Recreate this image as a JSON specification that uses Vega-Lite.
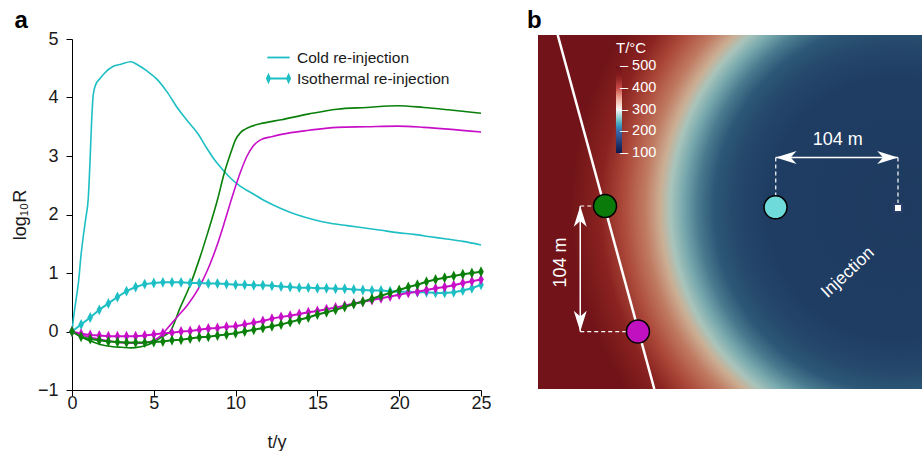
{
  "$schema": "https://vega.github.io/schema/vega-lite/v6.json",
  "background": "white",
  "padding": {"left": 11, "top": 9, "right": 0, "bottom": 0},
  "spacing": 35,
  "config": {
    "font": "Liberation Sans",
    "view": {"stroke": null},
    "axis": {"domainColor": "#000", "tickColor": "#000", "labelColor": "#1a1a1a", "titleColor": "#1a1a1a", "labelFontSize": 18, "titleFontSize": 18, "titleFontWeight": "normal", "grid": false, "tickSize": 6, "labelFlush": false, "labelOverlap": false}
  },
  "resolve": {"scale": {"x": "independent", "y": "independent", "color": "independent", "fill": "independent", "shape": "independent"}, "legend": {"color": "independent", "shape": "independent"}},
  "datasets": {
    "series": [
      {"t":0,"R":0,"w":"H","s":"Cold"},{"t":0.1,"R":0.25,"w":"H","s":"Cold"},{"t":0.25,"R":0.55,"w":"H","s":"Cold"},{"t":0.4,"R":0.85,"w":"H","s":"Cold"},{"t":0.55,"R":1.3,"w":"H","s":"Cold"},{"t":0.7,"R":1.65,"w":"H","s":"Cold"},{"t":0.85,"R":1.95,"w":"H","s":"Cold"},{"t":1.0,"R":2.3,"w":"H","s":"Cold"},{"t":1.1,"R":2.9,"w":"H","s":"Cold"},{"t":1.2,"R":3.6,"w":"H","s":"Cold"},{"t":1.3,"R":4.05,"w":"H","s":"Cold"},{"t":1.45,"R":4.22,"w":"H","s":"Cold"},{"t":1.7,"R":4.32,"w":"H","s":"Cold"},{"t":2.0,"R":4.42,"w":"H","s":"Cold"},{"t":2.5,"R":4.53,"w":"H","s":"Cold"},{"t":3.0,"R":4.57,"w":"H","s":"Cold"},{"t":3.6,"R":4.61,"w":"H","s":"Cold"},{"t":4.0,"R":4.56,"w":"H","s":"Cold"},{"t":4.6,"R":4.45,"w":"H","s":"Cold"},{"t":5.2,"R":4.31,"w":"H","s":"Cold"},{"t":5.8,"R":4.1,"w":"H","s":"Cold"},{"t":6.45,"R":3.82,"w":"H","s":"Cold"},{"t":7.0,"R":3.62,"w":"H","s":"Cold"},{"t":7.7,"R":3.38,"w":"H","s":"Cold"},{"t":8.2,"R":3.15,"w":"H","s":"Cold"},{"t":8.7,"R":2.94,"w":"H","s":"Cold"},{"t":9.2,"R":2.77,"w":"H","s":"Cold"},{"t":9.7,"R":2.62,"w":"H","s":"Cold"},{"t":10.3,"R":2.48,"w":"H","s":"Cold"},{"t":10.9,"R":2.38,"w":"H","s":"Cold"},{"t":11.75,"R":2.24,"w":"H","s":"Cold"},{"t":12.8,"R":2.1,"w":"H","s":"Cold"},{"t":13.8,"R":1.99,"w":"H","s":"Cold"},{"t":14.8,"R":1.91,"w":"H","s":"Cold"},{"t":15.8,"R":1.85,"w":"H","s":"Cold"},{"t":16.8,"R":1.81,"w":"H","s":"Cold"},{"t":17.9,"R":1.77,"w":"H","s":"Cold"},{"t":18.9,"R":1.73,"w":"H","s":"Cold"},{"t":19.9,"R":1.69,"w":"H","s":"Cold"},{"t":20.9,"R":1.66,"w":"H","s":"Cold"},{"t":21.9,"R":1.62,"w":"H","s":"Cold"},{"t":22.9,"R":1.58,"w":"H","s":"Cold"},{"t":23.9,"R":1.54,"w":"H","s":"Cold"},{"t":25,"R":1.48,"w":"H","s":"Cold"},
      {"t":0,"R":0,"w":"F1","s":"Cold"},{"t":0.5,"R":-0.08,"w":"F1","s":"Cold"},{"t":1,"R":-0.15,"w":"F1","s":"Cold"},{"t":1.5,"R":-0.2,"w":"F1","s":"Cold"},{"t":2,"R":-0.24,"w":"F1","s":"Cold"},{"t":2.5,"R":-0.26,"w":"F1","s":"Cold"},{"t":3,"R":-0.27,"w":"F1","s":"Cold"},{"t":3.6,"R":-0.28,"w":"F1","s":"Cold"},{"t":4.2,"R":-0.26,"w":"F1","s":"Cold"},{"t":4.6,"R":-0.23,"w":"F1","s":"Cold"},{"t":5,"R":-0.18,"w":"F1","s":"Cold"},{"t":5.5,"R":-0.09,"w":"F1","s":"Cold"},{"t":6,"R":0,"w":"F1","s":"Cold"},{"t":6.6,"R":0.4,"w":"F1","s":"Cold"},{"t":7.27,"R":0.83,"w":"F1","s":"Cold"},{"t":7.8,"R":1.25,"w":"F1","s":"Cold"},{"t":8.3,"R":1.69,"w":"F1","s":"Cold"},{"t":8.9,"R":2.26,"w":"F1","s":"Cold"},{"t":9.3,"R":2.7,"w":"F1","s":"Cold"},{"t":9.7,"R":3.05,"w":"F1","s":"Cold"},{"t":10,"R":3.28,"w":"F1","s":"Cold"},{"t":10.3,"R":3.4,"w":"F1","s":"Cold"},{"t":10.6,"R":3.46,"w":"F1","s":"Cold"},{"t":10.9,"R":3.5,"w":"F1","s":"Cold"},{"t":11.5,"R":3.55,"w":"F1","s":"Cold"},{"t":12.8,"R":3.62,"w":"F1","s":"Cold"},{"t":14.5,"R":3.72,"w":"F1","s":"Cold"},{"t":16.2,"R":3.8,"w":"F1","s":"Cold"},{"t":18,"R":3.83,"w":"F1","s":"Cold"},{"t":19.9,"R":3.86,"w":"F1","s":"Cold"},{"t":21.5,"R":3.83,"w":"F1","s":"Cold"},{"t":23,"R":3.79,"w":"F1","s":"Cold"},{"t":25,"R":3.73,"w":"F1","s":"Cold"},
      {"t":0,"R":0,"w":"F2","s":"Cold"},{"t":0.5,"R":-0.05,"w":"F2","s":"Cold"},{"t":1,"R":-0.09,"w":"F2","s":"Cold"},{"t":1.5,"R":-0.12,"w":"F2","s":"Cold"},{"t":2,"R":-0.15,"w":"F2","s":"Cold"},{"t":2.5,"R":-0.17,"w":"F2","s":"Cold"},{"t":3,"R":-0.19,"w":"F2","s":"Cold"},{"t":3.5,"R":-0.2,"w":"F2","s":"Cold"},{"t":4,"R":-0.2,"w":"F2","s":"Cold"},{"t":4.5,"R":-0.19,"w":"F2","s":"Cold"},{"t":5,"R":-0.15,"w":"F2","s":"Cold"},{"t":5.4,"R":-0.08,"w":"F2","s":"Cold"},{"t":5.85,"R":0.06,"w":"F2","s":"Cold"},{"t":6.4,"R":0.24,"w":"F2","s":"Cold"},{"t":7.05,"R":0.45,"w":"F2","s":"Cold"},{"t":7.7,"R":0.72,"w":"F2","s":"Cold"},{"t":8.3,"R":1.06,"w":"F2","s":"Cold"},{"t":8.9,"R":1.5,"w":"F2","s":"Cold"},{"t":9.3,"R":1.85,"w":"F2","s":"Cold"},{"t":9.7,"R":2.22,"w":"F2","s":"Cold"},{"t":10.2,"R":2.65,"w":"F2","s":"Cold"},{"t":10.7,"R":3.0,"w":"F2","s":"Cold"},{"t":11.1,"R":3.18,"w":"F2","s":"Cold"},{"t":11.55,"R":3.28,"w":"F2","s":"Cold"},{"t":12.2,"R":3.33,"w":"F2","s":"Cold"},{"t":12.8,"R":3.37,"w":"F2","s":"Cold"},{"t":14.5,"R":3.44,"w":"F2","s":"Cold"},{"t":16.2,"R":3.49,"w":"F2","s":"Cold"},{"t":18,"R":3.5,"w":"F2","s":"Cold"},{"t":19.9,"R":3.51,"w":"F2","s":"Cold"},{"t":21.5,"R":3.49,"w":"F2","s":"Cold"},{"t":23,"R":3.46,"w":"F2","s":"Cold"},{"t":25,"R":3.41,"w":"F2","s":"Cold"},
      {"t":0,"R":0,"w":"H","s":"Isothermal"},{"t":0.556,"R":0.12,"w":"H","s":"Isothermal"},{"t":1.111,"R":0.24,"w":"H","s":"Isothermal"},{"t":1.667,"R":0.37,"w":"H","s":"Isothermal"},{"t":2.222,"R":0.48,"w":"H","s":"Isothermal"},{"t":2.778,"R":0.59,"w":"H","s":"Isothermal"},{"t":3.333,"R":0.69,"w":"H","s":"Isothermal"},{"t":3.889,"R":0.76,"w":"H","s":"Isothermal"},{"t":4.444,"R":0.81,"w":"H","s":"Isothermal"},{"t":5,"R":0.83,"w":"H","s":"Isothermal"},{"t":5.556,"R":0.84,"w":"H","s":"Isothermal"},{"t":6.111,"R":0.84,"w":"H","s":"Isothermal"},{"t":6.667,"R":0.84,"w":"H","s":"Isothermal"},{"t":7.222,"R":0.83,"w":"H","s":"Isothermal"},{"t":7.778,"R":0.83,"w":"H","s":"Isothermal"},{"t":8.333,"R":0.82,"w":"H","s":"Isothermal"},{"t":8.889,"R":0.82,"w":"H","s":"Isothermal"},{"t":9.444,"R":0.81,"w":"H","s":"Isothermal"},{"t":10,"R":0.8,"w":"H","s":"Isothermal"},{"t":10.556,"R":0.8,"w":"H","s":"Isothermal"},{"t":11.111,"R":0.79,"w":"H","s":"Isothermal"},{"t":11.667,"R":0.79,"w":"H","s":"Isothermal"},{"t":12.222,"R":0.78,"w":"H","s":"Isothermal"},{"t":12.778,"R":0.77,"w":"H","s":"Isothermal"},{"t":13.333,"R":0.76,"w":"H","s":"Isothermal"},{"t":13.889,"R":0.75,"w":"H","s":"Isothermal"},{"t":14.444,"R":0.75,"w":"H","s":"Isothermal"},{"t":15,"R":0.74,"w":"H","s":"Isothermal"},{"t":15.556,"R":0.74,"w":"H","s":"Isothermal"},{"t":16.111,"R":0.73,"w":"H","s":"Isothermal"},{"t":16.667,"R":0.73,"w":"H","s":"Isothermal"},{"t":17.222,"R":0.72,"w":"H","s":"Isothermal"},{"t":17.778,"R":0.71,"w":"H","s":"Isothermal"},{"t":18.333,"R":0.7,"w":"H","s":"Isothermal"},{"t":18.889,"R":0.7,"w":"H","s":"Isothermal"},{"t":19.444,"R":0.69,"w":"H","s":"Isothermal"},{"t":20,"R":0.68,"w":"H","s":"Isothermal"},{"t":20.556,"R":0.68,"w":"H","s":"Isothermal"},{"t":21.111,"R":0.67,"w":"H","s":"Isothermal"},{"t":21.667,"R":0.67,"w":"H","s":"Isothermal"},{"t":22.222,"R":0.66,"w":"H","s":"Isothermal"},{"t":22.778,"R":0.66,"w":"H","s":"Isothermal"},{"t":23.333,"R":0.67,"w":"H","s":"Isothermal"},{"t":23.889,"R":0.7,"w":"H","s":"Isothermal"},{"t":24.444,"R":0.74,"w":"H","s":"Isothermal"},{"t":25,"R":0.8,"w":"H","s":"Isothermal"},
      {"t":0,"R":0,"w":"F2","s":"Isothermal"},{"t":0.556,"R":-0.04,"w":"F2","s":"Isothermal"},{"t":1.111,"R":-0.06,"w":"F2","s":"Isothermal"},{"t":1.667,"R":-0.07,"w":"F2","s":"Isothermal"},{"t":2.222,"R":-0.08,"w":"F2","s":"Isothermal"},{"t":2.778,"R":-0.08,"w":"F2","s":"Isothermal"},{"t":3.333,"R":-0.08,"w":"F2","s":"Isothermal"},{"t":3.889,"R":-0.08,"w":"F2","s":"Isothermal"},{"t":4.444,"R":-0.07,"w":"F2","s":"Isothermal"},{"t":5,"R":-0.05,"w":"F2","s":"Isothermal"},{"t":5.556,"R":-0.03,"w":"F2","s":"Isothermal"},{"t":6.111,"R":-0.02,"w":"F2","s":"Isothermal"},{"t":6.667,"R":0,"w":"F2","s":"Isothermal"},{"t":7.222,"R":0.01,"w":"F2","s":"Isothermal"},{"t":7.778,"R":0.03,"w":"F2","s":"Isothermal"},{"t":8.333,"R":0.05,"w":"F2","s":"Isothermal"},{"t":8.889,"R":0.06,"w":"F2","s":"Isothermal"},{"t":9.444,"R":0.08,"w":"F2","s":"Isothermal"},{"t":10,"R":0.09,"w":"F2","s":"Isothermal"},{"t":10.556,"R":0.12,"w":"F2","s":"Isothermal"},{"t":11.111,"R":0.15,"w":"F2","s":"Isothermal"},{"t":11.667,"R":0.18,"w":"F2","s":"Isothermal"},{"t":12.222,"R":0.22,"w":"F2","s":"Isothermal"},{"t":12.778,"R":0.25,"w":"F2","s":"Isothermal"},{"t":13.333,"R":0.27,"w":"F2","s":"Isothermal"},{"t":13.889,"R":0.3,"w":"F2","s":"Isothermal"},{"t":14.444,"R":0.33,"w":"F2","s":"Isothermal"},{"t":15,"R":0.35,"w":"F2","s":"Isothermal"},{"t":15.556,"R":0.38,"w":"F2","s":"Isothermal"},{"t":16.111,"R":0.41,"w":"F2","s":"Isothermal"},{"t":16.667,"R":0.44,"w":"F2","s":"Isothermal"},{"t":17.222,"R":0.48,"w":"F2","s":"Isothermal"},{"t":17.778,"R":0.51,"w":"F2","s":"Isothermal"},{"t":18.333,"R":0.54,"w":"F2","s":"Isothermal"},{"t":18.889,"R":0.57,"w":"F2","s":"Isothermal"},{"t":19.444,"R":0.6,"w":"F2","s":"Isothermal"},{"t":20,"R":0.63,"w":"F2","s":"Isothermal"},{"t":20.556,"R":0.66,"w":"F2","s":"Isothermal"},{"t":21.111,"R":0.68,"w":"F2","s":"Isothermal"},{"t":21.667,"R":0.71,"w":"F2","s":"Isothermal"},{"t":22.222,"R":0.74,"w":"F2","s":"Isothermal"},{"t":22.778,"R":0.76,"w":"F2","s":"Isothermal"},{"t":23.333,"R":0.79,"w":"F2","s":"Isothermal"},{"t":23.889,"R":0.83,"w":"F2","s":"Isothermal"},{"t":24.444,"R":0.86,"w":"F2","s":"Isothermal"},{"t":25,"R":0.89,"w":"F2","s":"Isothermal"},
      {"t":0,"R":0,"w":"F1","s":"Isothermal"},{"t":0.556,"R":-0.09,"w":"F1","s":"Isothermal"},{"t":1.111,"R":-0.13,"w":"F1","s":"Isothermal"},{"t":1.667,"R":-0.15,"w":"F1","s":"Isothermal"},{"t":2.222,"R":-0.17,"w":"F1","s":"Isothermal"},{"t":2.778,"R":-0.18,"w":"F1","s":"Isothermal"},{"t":3.333,"R":-0.19,"w":"F1","s":"Isothermal"},{"t":3.889,"R":-0.19,"w":"F1","s":"Isothermal"},{"t":4.444,"R":-0.19,"w":"F1","s":"Isothermal"},{"t":5,"R":-0.18,"w":"F1","s":"Isothermal"},{"t":5.556,"R":-0.17,"w":"F1","s":"Isothermal"},{"t":6.111,"R":-0.15,"w":"F1","s":"Isothermal"},{"t":6.667,"R":-0.14,"w":"F1","s":"Isothermal"},{"t":7.222,"R":-0.12,"w":"F1","s":"Isothermal"},{"t":7.778,"R":-0.1,"w":"F1","s":"Isothermal"},{"t":8.333,"R":-0.09,"w":"F1","s":"Isothermal"},{"t":8.889,"R":-0.07,"w":"F1","s":"Isothermal"},{"t":9.444,"R":-0.05,"w":"F1","s":"Isothermal"},{"t":10,"R":-0.03,"w":"F1","s":"Isothermal"},{"t":10.556,"R":0,"w":"F1","s":"Isothermal"},{"t":11.111,"R":0.03,"w":"F1","s":"Isothermal"},{"t":11.667,"R":0.06,"w":"F1","s":"Isothermal"},{"t":12.222,"R":0.09,"w":"F1","s":"Isothermal"},{"t":12.778,"R":0.12,"w":"F1","s":"Isothermal"},{"t":13.333,"R":0.16,"w":"F1","s":"Isothermal"},{"t":13.889,"R":0.2,"w":"F1","s":"Isothermal"},{"t":14.444,"R":0.24,"w":"F1","s":"Isothermal"},{"t":15,"R":0.29,"w":"F1","s":"Isothermal"},{"t":15.556,"R":0.33,"w":"F1","s":"Isothermal"},{"t":16.111,"R":0.37,"w":"F1","s":"Isothermal"},{"t":16.667,"R":0.42,"w":"F1","s":"Isothermal"},{"t":17.222,"R":0.47,"w":"F1","s":"Isothermal"},{"t":17.778,"R":0.51,"w":"F1","s":"Isothermal"},{"t":18.333,"R":0.56,"w":"F1","s":"Isothermal"},{"t":18.889,"R":0.61,"w":"F1","s":"Isothermal"},{"t":19.444,"R":0.66,"w":"F1","s":"Isothermal"},{"t":20,"R":0.71,"w":"F1","s":"Isothermal"},{"t":20.556,"R":0.76,"w":"F1","s":"Isothermal"},{"t":21.111,"R":0.8,"w":"F1","s":"Isothermal"},{"t":21.667,"R":0.85,"w":"F1","s":"Isothermal"},{"t":22.222,"R":0.89,"w":"F1","s":"Isothermal"},{"t":22.778,"R":0.92,"w":"F1","s":"Isothermal"},{"t":23.333,"R":0.95,"w":"F1","s":"Isothermal"},{"t":23.889,"R":0.98,"w":"F1","s":"Isothermal"},{"t":24.444,"R":1.0,"w":"F1","s":"Isothermal"},{"t":25,"R":1.02,"w":"F1","s":"Isothermal"}
    ],
    "wells": [{"name":"F1","x":56.8,"y":144.9},{"name":"F2","x":84.7,"y":251.3},{"name":"H","x":201.3,"y":146.0}],
    "injection": [{"name":"Injection","x":305.1,"y":146.6}],
    "fault": [{"x":16.7,"y":0},{"x":98.6,"y":300}],
    "dashes": [{"x":201.5,"y":103.8,"x2":201.5,"y2":146.0},{"x":305.1,"y":103.8,"x2":305.1,"y2":146.6},{"x":35.8,"y":144.9,"x2":56.8,"y2":144.9},{"x":35.8,"y":251.3,"x2":84.7,"y2":251.3}],
    "arrows": [{"a":"h","x":201.5,"y":103.8,"x2":305.1,"y2":103.8},{"a":"v","x":35.8,"y":144.9,"x2":35.8,"y2":251.3}]
  },
  "hconcat": [
    {
      "width": 409,
      "height": 355,
      "title": {"text": "a", "anchor": "start", "dx": 3, "fontSize": 24, "fontWeight": "bold", "offset": -3, "color": "#000"},
      "data": {"name": "series"},
      "encoding": {
        "x": {"field": "t", "type": "quantitative", "scale": {"domain": [0, 25], "nice": false}, "axis": {"values": [0, 5, 10, 15, 20, 25], "title": "t/y", "labelPadding": -2, "titlePadding": 21}},
        "y": {"field": "R", "type": "quantitative", "scale": {"domain": [-1, 5], "nice": false, "zero": false, "range": [355, 4]}, "axis": {"values": [-1, 0, 1, 2, 3, 4, 5], "title": "log₁₀R", "labelPadding": 8, "titlePadding": 8}}
      },
      "layer": [
        {"transform": [{"filter": "datum.s === 'Cold'"}], "mark": {"type": "line", "strokeWidth": 1.6, "interpolate": "monotone"},
          "encoding": {"detail": {"field": "s"}, "color": {"field": "w", "type": "nominal", "scale": {"domain": ["H", "F1", "F2"], "range": ["#1ebfc4", "#0a800a", "#c80fc8"]}, "legend": null}}},
        {"transform": [{"filter": "datum.s === 'Isothermal'"}], "mark": {"type": "line", "strokeWidth": 2},
          "encoding": {"detail": {"field": "s"}, "color": {"field": "w", "type": "nominal", "scale": {"domain": ["H", "F1", "F2"], "range": ["#1ebfc4", "#0a800a", "#c80fc8"]}, "legend": null}}},
        {"transform": [{"filter": "datum.s === 'Isothermal'"}], "mark": {"type": "point", "shape": "M0,-1L0.5,0L0,1L-0.5,0Z", "filled": true, "opacity": 1, "size": 120, "strokeWidth": 0},
          "encoding": {"color": {"field": "w", "type": "nominal", "scale": {"domain": ["H", "F1", "F2"], "range": ["#1ebfc4", "#0a800a", "#c80fc8"]}, "legend": null}}},
        {"transform": [{"filter": "datum.t === 0"}], "mark": {"type": "point", "filled": false, "opacity": 0, "color": "#1ebfc4", "strokeWidth": 1.8, "size": 500},
          "encoding": {
            "shape": {"field": "s", "type": "nominal", "scale": {"domain": ["Cold", "Isothermal"], "range": ["M-1,0L1,0", "M-1,0L1,0M-0.9,-0.32L-0.76,0L-0.9,0.32L-1.04,0ZM0.9,-0.32L1.04,0L0.9,0.32L0.76,0Z"]},
              "legend": {"orient": "none", "legendX": 194, "legendY": 10, "title": null, "symbolSize": 500, "symbolOpacity": 1, "symbolFillColor": "#1ebfc4", "symbolStrokeColor": "#1ebfc4", "symbolStrokeWidth": 1.8, "labelFontSize": 15.5, "labelColor": "#1a1a1a", "labelOffset": 6, "rowPadding": -6, "padding": 0, "labelExpr": "datum.label + ' re-injection'"}
            }
          }
        }
      ]
    },
    {
      "width": 385,
      "height": 354,
      "title": {"text": "b", "anchor": "start", "dx": -11, "fontSize": 24, "fontWeight": "bold", "offset": 2, "color": "#000"},
      "encoding": {
        "x": {"field": "x", "type": "quantitative", "scale": {"domain": [0, 326.3], "nice": false, "zero": false}, "axis": null},
        "y": {"field": "y", "type": "quantitative", "scale": {"domain": [0, 300], "nice": false, "zero": false, "reverse": true}, "axis": null}
      },
      "layer": [
        {"data": {"values": [{"T": 500}]}, "mark": {"type": "rect"},
          "encoding": {"x": null, "y": null,
            "color": {"field": "T", "type": "quantitative", "scale": {"domain": [99, 200, 250, 300, 350, 400, 450, 501], "range": ["#0e1848", "#3a68a8", "#6cc2c6", "#f7f7f7", "#f0b0a0", "#c94a45", "#8a1c20", "#701318"]},
              "legend": {"orient": "none", "legendX": 78, "legendY": 6, "title": "T/°C", "titleColor": "white", "titleFontSize": 15, "titleFontWeight": "normal", "titlePadding": 10, "labelColor": "white", "labelFontSize": 14.5, "gradientLength": 87, "gradientThickness": 6, "direction": "vertical", "labelOffset": -2, "labelExpr": "'– ' + datum.label", "values": [100, 200, 300, 400, 500], "gradientStrokeWidth": 0, "padding": 0}}}},
        {"data": {"name": "injection"}, "mark": {"type": "point", "shape": "circle", "size": 430336, "filled": true, "opacity": 1, "clip": true, "strokeWidth": 0,
          "fill": {"gradient": "radial", "x1": 0.5, "y1": 0.5, "r1": 0, "x2": 0.5, "y2": 0.5, "r2": 0.5,
            "stops": [{"offset": 0, "color": "#1e3a5f"}, {"offset": 0.4, "color": "#1f3d63"}, {"offset": 0.5, "color": "#25486b"}, {"offset": 0.5625, "color": "#2d5877"}, {"offset": 0.61, "color": "#497b8f"}, {"offset": 0.656, "color": "#78a9ae"}, {"offset": 0.694, "color": "#a9c4bb"}, {"offset": 0.725, "color": "#cbae93"}, {"offset": 0.772, "color": "#c07a62"}, {"offset": 0.834, "color": "#ad4b3c"}, {"offset": 0.906, "color": "#8a2320"}, {"offset": 1, "color": "#701318"}]}}},
        {"data": {"name": "fault"}, "mark": {"type": "line", "color": "white", "strokeWidth": 2.5, "clip": true}, "encoding": {}},
        {"data": {"name": "dashes"}, "mark": {"type": "rule", "color": "white", "strokeWidth": 1.2, "strokeDash": [4, 3]}, "encoding": {"x2": {"field": "x2"}, "y2": {"field": "y2"}}},
        {"data": {"name": "arrows"}, "mark": {"type": "rule", "color": "white", "strokeWidth": 1.5}, "encoding": {"x2": {"field": "x2"}, "y2": {"field": "y2"}}},
        {"data": {"name": "arrows"}, "transform": [{"filter": "datum.a === 'h'"}], "mark": {"type": "point", "shape": "M0,0L-1.6,-0.5L-1.15,0L-1.6,0.5Z", "size": 676, "filled": true, "opacity": 1, "color": "white", "angle": 180}},
        {"data": {"name": "arrows"}, "transform": [{"filter": "datum.a === 'h'"}], "mark": {"type": "point", "shape": "M0,0L-1.6,-0.5L-1.15,0L-1.6,0.5Z", "size": 676, "filled": true, "opacity": 1, "color": "white", "angle": 0}, "encoding": {"x": {"field": "x2", "type": "quantitative"}, "y": {"field": "y2", "type": "quantitative"}}},
        {"data": {"name": "arrows"}, "transform": [{"filter": "datum.a === 'v'"}], "mark": {"type": "point", "shape": "M0,0L-1.6,-0.5L-1.15,0L-1.6,0.5Z", "size": 676, "filled": true, "opacity": 1, "color": "white", "angle": 270}},
        {"data": {"name": "arrows"}, "transform": [{"filter": "datum.a === 'v'"}], "mark": {"type": "point", "shape": "M0,0L-1.6,-0.5L-1.15,0L-1.6,0.5Z", "size": 676, "filled": true, "opacity": 1, "color": "white", "angle": 90}, "encoding": {"x": {"field": "x2", "type": "quantitative"}, "y": {"field": "y2", "type": "quantitative"}}},
        {"data": {"name": "wells"}, "mark": {"type": "point", "shape": "circle", "size": 529, "filled": true, "opacity": 1, "stroke": "black", "strokeWidth": 1.5},
          "encoding": {"fill": {"field": "name", "type": "nominal", "scale": {"domain": ["H", "F1", "F2"], "range": ["#6fdada", "#0a7a0a", "#c010c0"]}, "legend": null}}},
        {"data": {"name": "injection"}, "mark": {"type": "point", "shape": "square", "size": 64, "filled": true, "opacity": 1, "fill": "white", "stroke": "#2a3f6a", "strokeWidth": 2}},
        {"data": {"values": [{"label": "104 m", "x": 254, "y": 88.9}]}, "mark": {"type": "text", "color": "white", "fontSize": 18, "align": "center", "baseline": "middle"}, "encoding": {"text": {"field": "label"}}},
        {"data": {"values": [{"label": "104 m", "x": 19.5, "y": 192.8}]}, "mark": {"type": "text", "color": "white", "fontSize": 18, "align": "center", "baseline": "middle", "angle": 270}, "encoding": {"text": {"field": "label"}}},
        {"data": {"values": [{"label": "Injection", "x": 262.7, "y": 201.3}]}, "mark": {"type": "text", "color": "white", "fontSize": 17.5, "align": "center", "baseline": "middle", "angle": 317}, "encoding": {"text": {"field": "label"}}}
      ]
    }
  ]
}
